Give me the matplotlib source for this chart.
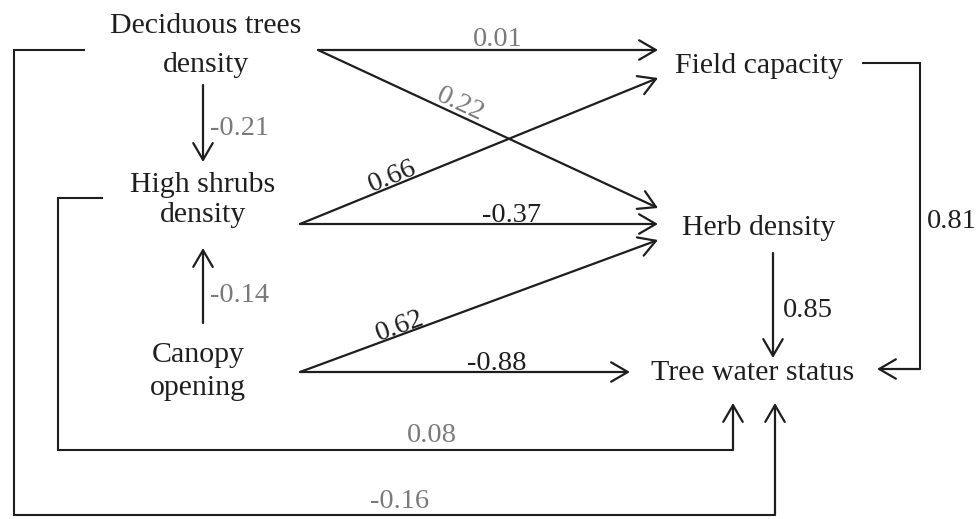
import math
import matplotlib.pyplot as plt
from matplotlib.patches import FancyArrowPatch

plt.rcParams['font.family'] = ['Liberation Serif', 'DejaVu Serif']

# path model: nodes and standardized coefficients
node_names = ["Deciduous trees\ndensity", "High shrubs\ndensity", "Canopy\nopening",
              "Field capacity", "Herb density", "Tree water status"]
path_from = [0, 0, 0, 1, 1, 2, 2, 2, 4, 3, 1, 0]
path_to = [3, 4, 1, 3, 4, 1, 4, 5, 5, 5, 5, 5]
path_coef = [0.01, 0.22, -0.21, 0.66, -0.37, -0.14, 0.62, -0.88, 0.85, 0.81, 0.08, -0.16]
path_weak = [True, True, True, False, False, True, False, False, False, False, True, True]

# layout (pixel space, y down)
node_x = [206, 203, 198, 759, 759, 753]
node_base = [[33, 72], [192, 222], [362, 395], [73], [235], [380]]

routes = [
    [(318, 50), (658, 50)],
    [(318, 50), (658, 208)],
    [(203, 85), (203, 162)],
    [(300, 224), (658, 78)],
    [(300, 224), (658, 224)],
    [(203, 323), (203, 248)],
    [(300, 372), (658, 240)],
    [(300, 372), (630, 372)],
    [(773, 253), (773, 358)],
    [(862, 63), (920, 63), (920, 369), (877, 369)],
    [(103, 198), (58, 198), (58, 450), (733, 450), (733, 403)],
    [(85, 50), (14, 50), (14, 515), (775, 515), (775, 403)],
]
# label anchor (x, baseline y), horizontal alignment, segment used for rotation
label_pos = [
    ((498, 46), 'center', None),
    ((457, 111), 'center', 0),
    ((210, 135), 'left', None),
    ((395, 183), 'center', 0),
    ((512, 222), 'center', None),
    ((210, 302), 'left', None),
    ((402, 332), 'center', 0),
    ((497, 370), 'center', None),
    ((783, 317), 'left', None),
    ((927, 228), 'left', None),
    ((432, 442), 'center', None),
    ((400, 508), 'center', None),
]

ink = '#1e1e1e'
grey = '#7a7a7a'

fig = plt.figure(figsize=(9.78, 5.19), dpi=100)
ax = fig.add_axes([0, 0, 1, 1])
ax.set_xlim(0, 978)
ax.set_ylim(519, 0)
ax.axis('off')

for name, x, bases in zip(node_names, node_x, node_base):
    for line, yb in zip(name.split('\n'), bases):
        ax.text(x, yb, line, ha='center', va='baseline', fontsize=21.5, color=ink)

for i, pts in enumerate(routes):
    xs = [p[0] for p in pts]
    ys = [p[1] for p in pts]
    if len(pts) > 2:
        ax.plot(xs[:-1], ys[:-1], color=ink, lw=1.5, solid_capstyle='butt',
                solid_joinstyle='miter')
    arr = FancyArrowPatch(pts[-2], pts[-1], arrowstyle='->,head_length=0.6,head_width=0.35',
                          mutation_scale=20, lw=1.6, color=ink, shrinkA=0, shrinkB=0)
    ax.add_patch(arr)

    (lx, ly), ha, seg = label_pos[i]
    rot = 0
    if seg is not None:
        (x1, y1), (x2, y2) = pts[seg], pts[seg + 1]
        rot = math.degrees(math.atan2(-(y2 - y1), x2 - x1))
    ax.text(lx, ly, f"{path_coef[i]:.2f}", ha=ha, va='baseline', rotation=rot,
            rotation_mode='anchor', fontsize=20.5,
            color=grey if path_weak[i] else ink)

fig.savefig('out.png', dpi=100)
